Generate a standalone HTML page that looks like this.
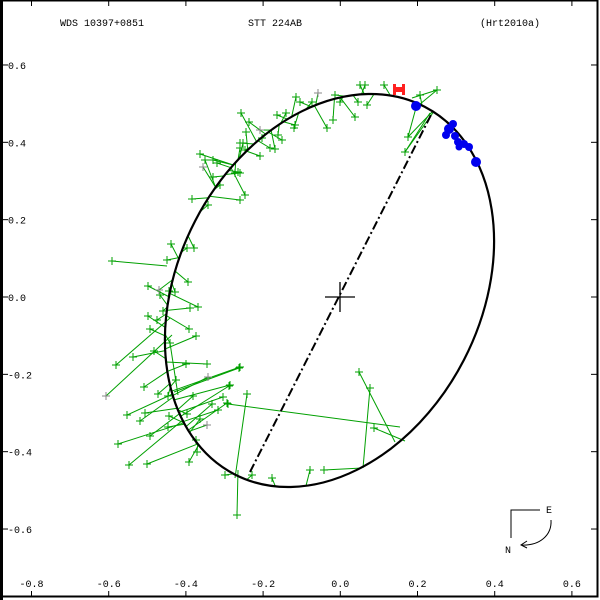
<!DOCTYPE html>
<html><head><meta charset="utf-8"><style>
html,body{margin:0;padding:0;background:#fff;}
svg{display:block;}
text{font-family:"Liberation Mono","DejaVu Sans Mono",monospace;font-size:10px;fill:#000;}
</style></head><body>
<svg id="s" width="600" height="600" viewBox="0 0 600 600" xmlns="http://www.w3.org/2000/svg">
<rect x="0" y="0" width="600" height="600" fill="#fff"/>
<rect x="1.5" y="0.5" width="596" height="596" fill="none" stroke="#000" stroke-width="2"/>
<line x1="1.5" y1="0" x2="1.5" y2="600" stroke="#000" stroke-width="3"/>
<g stroke="#000" stroke-width="1" id="ticks"></g>
<text x="60" y="26">WDS 10397+0851</text>
<text x="248" y="26">STT 224AB</text>
<text x="480" y="26">(Hrt2010a)</text>
<g id="labels"></g>
<g id="data" stroke="#00a000" stroke-width="1" fill="none"></g>
<ellipse cx="329.5" cy="290.5" rx="206.9" ry="151.3" transform="rotate(-62.7 329.5 290.5)" fill="none" stroke="#000" stroke-width="2.2"/>
<line x1="250" y1="472" x2="433" y2="111" stroke="#000" stroke-width="2" stroke-dasharray="9,3,2,3"/>
<g stroke="#000" stroke-width="1.3"><line x1="325" y1="297" x2="355" y2="297"/><line x1="340" y1="282" x2="340" y2="312"/></g>
<g fill="#0000ee">
<circle cx="416" cy="106" r="5"/><circle cx="476" cy="162" r="5"/>
<circle cx="449" cy="129" r="5"/><circle cx="453" cy="124" r="4"/><circle cx="446" cy="135" r="4"/>
<circle cx="455" cy="136" r="4"/><circle cx="458" cy="142" r="4"/><circle cx="464" cy="144" r="4"/>
<circle cx="469" cy="147" r="4"/><circle cx="459" cy="147" r="3.5"/>
</g>
<g fill="#ff2020"><rect x="393" y="84" width="3" height="11"/><rect x="402" y="84" width="3" height="11"/><rect x="393" y="87" width="12" height="5"/></g>
<g stroke="#000" stroke-width="1" fill="none">
<polyline points="511,538 511,510 540,510"/>
<path d="M551,520 C552,535 540,546 521,545"/>
<polyline points="527,541 521,545 527,548"/>
</g>
<text x="546" y="513">E</text>
<text x="505" y="553">N</text>
</svg>
<script>
(function(){
var NS="http://www.w3.org/2000/svg";
function el(p,n,a){var e=document.createElementNS(NS,n);for(var k in a)e.setAttribute(k,a[k]);p.appendChild(e);return e;}
var T=document.getElementById('ticks'),L=document.getElementById('labels');
function X(v){return 340.3+v*386;} function Y(v){return 297-v*386.7;}
var xs=[-0.8,-0.6,-0.4,-0.2,0,0.2,0.4,0.6];
xs.forEach(function(v){var x=X(v);el(T,'line',{x1:x,y1:0,x2:x,y2:6});el(T,'line',{x1:x,y1:591,x2:x,y2:597});
var t=el(L,'text',{x:x,y:587,'text-anchor':'middle'});t.textContent=v.toFixed(1);});
var ys=[0.6,0.4,0.2,0,-0.2,-0.4,-0.6];
ys.forEach(function(v){var y=Y(v);el(T,'line',{x1:2,y1:y,x2:8,y2:y});el(T,'line',{x1:591,y1:y,x2:597,y2:y});
var t=el(L,'text',{x:8,y:y+4});t.textContent=v.toFixed(1);});
var cx=329.5,cy=290.5,a=206.9,b=151.3,th=-62.7*Math.PI/180,ct=Math.cos(th),st=Math.sin(th);
var E=[];for(var i=0;i<720;i++){var t=i*Math.PI/360;var ex=a*Math.cos(t),ey=b*Math.sin(t);E.push([cx+ex*ct-ey*st,cy+ex*st+ey*ct]);}
function near(x,y,sh){var bi=0,bd=1e9;for(var i=0;i<720;i++){var d=(E[i][0]-x)*(E[i][0]-x)+(E[i][1]-y)*(E[i][1]-y);if(d<bd){bd=d;bi=i;}}return E[(bi+sh+720)%720];}
var D=document.getElementById('data');
var pts=[[360,85],[365,85],[384,85],[437,90],[420,95],[318,93],[335,95],[296,97],[300,102],[312,102],[340,102],[358,102],[367,105],[286,113],[277,115],[241,113],[294,128],[355,117],[333,120],[295,125],[249,122],[327,128],[260,130],[246,132],[278,135],[282,140],[262,138],[243,143],[240,143],[408,137],[405,152],[270,148],[275,149],[240,148],[245,150],[260,156],[200,154],[205,160],[213,160],[203,167],[217,163],[238,172],[235,173],[240,173],[213,177],[220,185],[245,195],[240,200],[192,199],[208,205],
[167,260],[187,248],[194,248],[171,244],[188,282],[148,286],[159,290],[169,291],[175,292],[160,295],[163,311],[190,308],[198,307],[148,316],[157,320],[150,329],[189,329],[196,336],[170,343],[154,351],[133,357],[186,364],[207,364],[208,377],[158,394],[176,380],[144,387],[229,386],[168,396],[193,396],[223,397],[227,403],[218,410],[212,404],[127,415],[145,413],[140,421],[169,416],[187,414],[200,419],[207,425],[168,427],[150,436],[118,444],[197,452],[196,440],[129,465],[147,464],[189,462],[225,475],[252,475],[272,478],[310,470],[240,367],[230,385]];
var sh=[3,-3,5,-6,4,-4,7,-8,5,-5];
pts.forEach(function(p,i){var q=near(p[0],p[1],sh[i%10]);el(D,'line',{x1:p[0],y1:p[1],x2:q[0],y2:q[1]});});
var longs=[[112,261,167,266],[116,365,170,318],[106,396,172,335],[239,368,174,392],[247,394,235,478],[237,515,238,470],[228,404,400,427],[359,372,395,442],[370,388,363,468],[324,470,362,468],[374,428,405,441],[408,137,433,111],[405,152,430,113],[437,90,412,98],[170,343,178,395]];
longs.forEach(function(l){el(D,'line',{x1:l[0],y1:l[1],x2:l[2],y2:l[3]});});
var all=pts.concat(longs.map(function(l){return [l[0],l[1]];}));
all.forEach(function(p,i){var c=(i%17==5)?'#888':'#00a000';
el(D,'line',{x1:p[0]-4,y1:p[1],x2:p[0]+4,y2:p[1],stroke:c});el(D,'line',{x1:p[0],y1:p[1]-4,x2:p[0],y2:p[1]+4,stroke:c});});
})();
</script>
</body></html>
